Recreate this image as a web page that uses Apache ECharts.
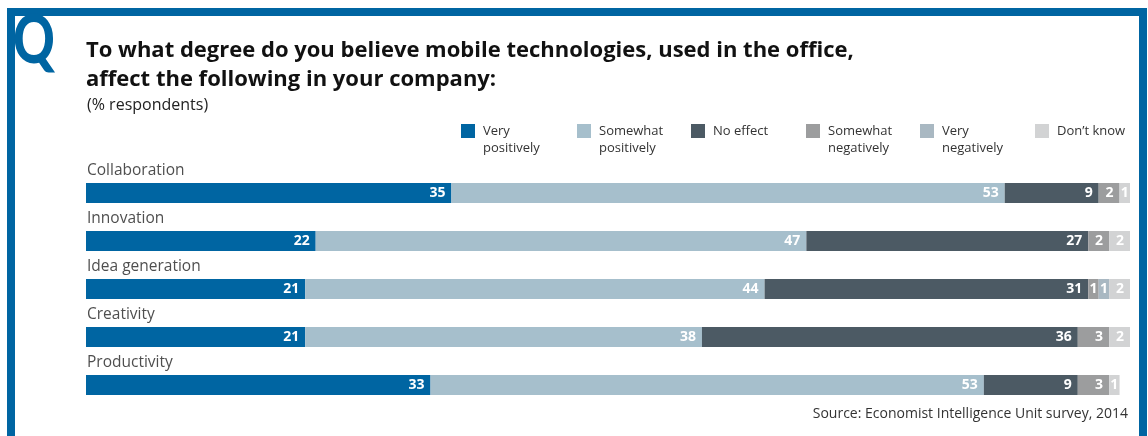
<!DOCTYPE html>
<html>
<head>
<meta charset="utf-8">
<script src="https://cdn.jsdelivr.net/npm/echarts@6/dist/echarts.min.js"></script>
<style>
  html, body { margin: 0; padding: 0; background: #ffffff; }
  #chart { width: 1148px; height: 436px; }
</style>
</head>
<body>
<div id="chart"></div>
<script>
// Survey rows, top to bottom
const categories = ['Collaboration', 'Innovation', 'Idea generation', 'Creativity', 'Productivity'];

// Response shares (% respondents) per answer, in category order
const veryPositively      = [35, 22, 21, 21, 33];
const somewhatPositively  = [53, 47, 44, 38, 53];
const noEffect            = [9, 27, 31, 36, 9];
const somewhatNegatively  = [2, 2, 1, 3, 3];
const veryNegatively      = [0, 0, 1, 0, 0];
const dontKnow            = [1, 2, 2, 2, 1];

const seriesNames = ['Very positively', 'Somewhat positively', 'No effect',
                     'Somewhat negatively', 'Very negatively', 'Don\u2019t know'];
const legendLabels = ['Very\npositively', 'Somewhat\npositively', 'No effect',
                      'Somewhat\nnegatively', 'Very\nnegatively', 'Don\u2019t know'];
const seriesValues = [veryPositively, somewhatPositively, noEffect,
                      somewhatNegatively, veryNegatively, dontKnow];

const colors = ['#0065a2', '#a6bfcc', '#4c5a64', '#9c9d9e', '#a9b8c2', '#d2d3d4'];
const legendX = [461, 577, 691, 806, 920, 1035];

const FONT = '"Open Sans", "Noto Sans", sans-serif';

const chart = echarts.init(document.getElementById('chart'), null, { renderer: 'canvas' });

const barSeries = seriesNames.map((name, i) => ({
  name: name,
  type: 'bar',
  stack: 'total',
  barWidth: 20,
  z: 2,
  itemStyle: { color: colors[i] },
  emphasis: { disabled: true },
  data: seriesValues[i].map(v => ({
    value: v,
    label: {
      show: v > 0,
      position: v <= 1 ? 'inside' : 'insideRight',
      distance: 6
    }
  })),
  label: {
    color: '#ffffff',
    fontFamily: FONT,
    fontWeight: 'bold',
    fontSize: 14
  }
}));

// Row names sit just above the left end of each bar
const rowLabels = {
  type: 'scatter',
  name: 'rows',
  symbolSize: 0,
  silent: true,
  z: 3,
  data: categories.map(c => ({ name: c, value: [0, c] })),
  label: {
    show: true,
    position: 'right',
    distance: 1,
    offset: [0, -22],
    formatter: p => p.name,
    fontFamily: FONT,
    fontSize: 15.5,
    color: '#222222'
  }
};

// One legend block per answer so each swatch keeps its own column;
// a leading blank line puts the first text line level with the swatch
const legends = seriesNames.map((name, i) => {
  const lines = legendLabels[i].split('\n').length;
  const text = lines > 1 ? '\n' + legendLabels[i] : legendLabels[i];
  return {
    data: [name],
    left: legendX[i],
    top: 124 - (lines > 1 ? 18.5 : 1.5),
    padding: 0,
    icon: 'rect',
    itemWidth: 14,
    itemHeight: 14,
    selectedMode: false,
    formatter: () => text,
    textStyle: {
      fontFamily: FONT,
      fontSize: 13,
      lineHeight: 17,
      color: '#333333',
      padding: [0, 0, 0, 3]
    }
  };
});

chart.setOption({
  animation: false,
  backgroundColor: '#ffffff',
  title: [
    {
      text: 'To what degree do you believe mobile technologies, used in the office,\naffect the following in your company:',
      left: 86,
      top: 36,
      padding: 0,
      textStyle: {
        fontFamily: FONT,
        fontWeight: 'bold',
        fontSize: 22,
        lineHeight: 29,
        color: '#111111'
      }
    },
    {
      text: '(% respondents)',
      left: 87,
      top: 97,
      padding: 0,
      textStyle: { fontFamily: FONT, fontWeight: 'normal', fontSize: 16, color: '#222222' }
    },
    {
      text: 'Source: Economist Intelligence Unit survey, 2014',
      right: 20,
      top: 407,
      padding: 0,
      textStyle: { fontFamily: FONT, fontWeight: 'normal', fontSize: 14, color: '#333333' }
    }
  ],
  legend: legends,
  grid: { left: 86, right: 18, top: 169, bottom: 27, containLabel: false },
  xAxis: {
    type: 'value',
    min: 0,
    max: 100,
    show: false
  },
  yAxis: {
    type: 'category',
    data: categories,
    inverse: true,
    show: false
  },
  series: barSeries.concat([rowLabels]),
  graphic: [
    {
      // frame: open at the bottom
      type: 'polyline',
      shape: { points: [[11, 436], [11, 12], [1143, 12], [1143, 436]] },
      style: { stroke: '#0065a2', lineWidth: 8, fill: null, lineJoin: 'miter' },
      silent: true
    },
    {
      type: 'text',
      x: 13,
      y: 9,
      scaleX: 0.78,
      style: {
        text: 'Q',
        font: '900 66px Lato, "DejaVu Sans", sans-serif',
        fill: '#0065a2',
        textVerticalAlign: 'top'
      },
      silent: true
    }
  ]
});
</script>
</body>
</html>
